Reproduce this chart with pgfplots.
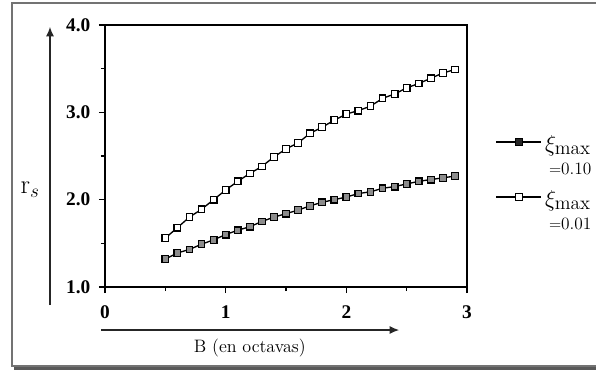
\documentclass[border=0pt]{standalone}
\usepackage{fontspec}
\usepackage{pgfplots}
\pgfplotsset{compat=1.18}
\usetikzlibrary{arrows.meta}
\newfontfamily\tickfont{Liberation Serif}
\begin{document}
\begin{tikzpicture}
\useasboundingbox (-78.75pt,-63.75pt) rectangle (368.25pt,215.25pt);
% frame
\draw[line width=2.4pt, black!65] (-68pt,-60.8pt) -- (380pt,-60.8pt);
\draw[line width=0.8pt, black!55, fill=white] (-69.75pt,-59.25pt) rectangle (380pt,213pt);
\begin{axis}[
  scale only axis,
  width=271.5pt, height=196.5pt,
  xmin=0, xmax=3, ymin=1, ymax=4,
  xtick={0,1,2,3}, minor xtick={0.5,1.5,2.5},
  ytick={1,2,3,4}, minor ytick={1.5,2.5,3.5},
  xtick pos=bottom, ytick pos=left,
  tick align=outside,
  major tick length=4.5pt, minor tick length=3pt,
  tick style={black, line width=0.9pt},
  axis line style={line width=1.1pt},
  yticklabel={\pgfmathprintnumber[fixed,precision=1,fixed zerofill]{\tick}},
  y tick label style={xshift=-3pt},
  /pgf/number format/assume math mode=true,
  tick label style={font=\tickfont\bfseries\fontsize{14.5}{15}\selectfont},
  x tick label style={yshift=-6pt},
  xlabel={B (en octavas)},
  xlabel style={font=\fontsize{13.5}{15}\selectfont, at={(axis description cs:0.40,-0.233)}, anchor=center},
  ylabel={$\mathrm{r}_{s}$},
  ylabel style={font=\fontsize{20}{22}\selectfont, rotate=-90, at={(axis description cs:-0.207,0.37)}, anchor=center},
  legend style={draw=none, fill=none, at={(axis description cs:1.066,0.60)}, anchor=north west, cells={anchor=base west}, row sep=23.5pt, nodes={font=\fontsize{16}{17}\selectfont}},
  legend image code/.code={\draw[yshift=7pt, mark repeat=2, mark phase=2, #1] plot coordinates {(0pt,0pt) (17pt,0pt) (34pt,0pt)};},
]
\addplot[black, line width=1pt, mark=square*, mark size=2.5pt, mark options={solid, fill=black!45, line width=0.9pt}, forget plot] coordinates {
(0.5,1.32) (0.6,1.39) (0.7,1.43) (0.8,1.49) (0.9,1.54) (1.0,1.60) (1.1,1.65) (1.2,1.69) (1.3,1.75) (1.4,1.80) (1.5,1.84) (1.6,1.88) (1.7,1.93) (1.8,1.97) (1.9,2.00) (2.0,2.03) (2.1,2.07) (2.2,2.09) (2.3,2.13) (2.4,2.15) (2.5,2.18) (2.6,2.21) (2.7,2.23) (2.8,2.25) (2.9,2.27)
};
\addlegendimage{black, line width=1.4pt, mark=square*, mark size=2.6pt, mark options={solid, fill=black!85, line width=0.9pt}}
\addlegendentry{\begin{tabular}[t]{@{}l@{}}$\xi_{\mbox{\fontsize{14.5}{15}\selectfont max}}$\\[0.5pt]\hspace{3pt}{\fontsize{13}{14}\selectfont$=$0.10}\end{tabular}}
\addplot[black, line width=1pt, mark=square*, mark size=2.5pt, mark options={solid, fill=white, line width=0.9pt}, forget plot] coordinates {
(0.5,1.56) (0.6,1.68) (0.7,1.80) (0.8,1.89) (0.9,2.00) (1.0,2.11) (1.1,2.21) (1.2,2.30) (1.3,2.38) (1.4,2.49) (1.5,2.58) (1.6,2.65) (1.7,2.76) (1.8,2.83) (1.9,2.91) (2.0,2.98) (2.1,3.02) (2.2,3.07) (2.3,3.16) (2.4,3.21) (2.5,3.28) (2.6,3.33) (2.7,3.39) (2.8,3.45) (2.9,3.49)
};
\addlegendimage{black, line width=1.4pt, mark=square*, mark size=2.6pt, mark options={solid, fill=white, line width=0.9pt}}
\addlegendentry{\begin{tabular}[t]{@{}l@{}}$\xi_{\mbox{\fontsize{14.5}{15}\selectfont max}}$\\[0.5pt]\hspace{3pt}{\fontsize{13}{14}\selectfont$=$0.01}\end{tabular}}
\end{axis}
% axis arrows
\draw[black!85, line width=0.8pt, -{Latex[length=7pt,width=6pt]}] (-41.25pt,-13.5pt) -- (-41.25pt,195pt);
\draw[black!85, line width=0.8pt, -{Latex[length=7pt,width=6pt]}] (-3pt,-32.25pt) -- (220.5pt,-32.25pt);
\end{tikzpicture}
\end{document}
